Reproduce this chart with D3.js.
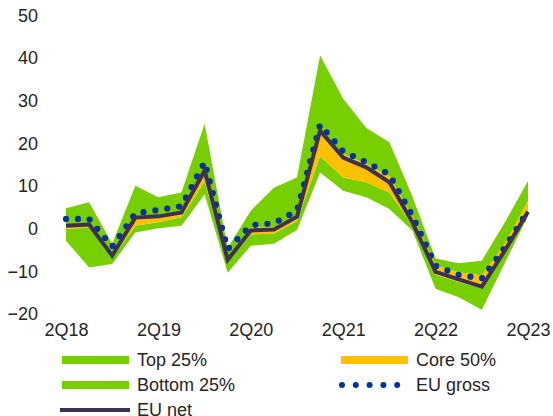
<!DOCTYPE html>
<html>
<head>
<meta charset="utf-8">
<script src="https://cdn.jsdelivr.net/npm/d3@7"></script>
<style>
  html, body { margin: 0; padding: 0; background: #fff; }
  svg { display: block; font-family: "Liberation Sans", Arial, sans-serif; }
</style>
</head>
<body>
<svg id="chart" width="553" height="416"></svg>
<script>
const quarters = ["2Q18","3Q18","4Q18","1Q19","2Q19","3Q19","4Q19","1Q20","2Q20","3Q20","4Q20",
                  "1Q21","2Q21","3Q21","4Q21","1Q22","2Q22","3Q22","4Q22","1Q23","2Q23"];
const tickLabels = ["2Q18","2Q19","2Q20","2Q21","2Q22","2Q23"];
const yTicks = [-20, -10, 0, 10, 20, 30, 40, 50];

// distribution boundaries
const minVal = [-2.8, -9.1, -8.3, -0.9, 0.1, 0.7, 8.0, -10.3, -4.0, -3.5, -0.3, 13.2, 8.9, 7.4, 4.6, -0.5, -14.1, -16.1, -19.0, -8.0, 3.0];
const p25    = [0.0, 0.2, -6.8, 0.7, 1.5, 2.7, 11.0, -7.8, -1.3, -1.2, 1.8, 17.0, 12.0, 10.9, 8.5, 0.8, -10.8, -12.5, -14.0, -5.8, 3.5];
const p75    = [1.0, 1.3, -5.8, 2.9, 3.3, 4.3, 13.8, -6.8, 0.2, 0.4, 3.3, 23.0, 17.5, 15.2, 12.3, 2.8, -8.6, -10.2, -11.0, -3.6, 6.5];
const maxVal = [4.8, 6.2, -3.5, 10.1, 7.4, 8.5, 24.6, -4.5, 4.2, 9.6, 12.0, 40.6, 30.5, 23.6, 20.3, 7.5, -7.0, -8.1, -7.5, 1.5, 11.2];
const euGross = [2.3, 2.3, -4.2, 3.6, 4.4, 5.3, 15.6, -4.8, 0.8, 1.3, 4.2, 24.4, 18.1, 15.6, 12.7, 3.0, -8.7, -10.8, -11.7, -4.4, 4.2];
const euNet   = [0.7, 1.0, -6.3, 2.6, 2.9, 3.8, 13.6, -7.3, -0.4, -0.2, 2.8, 23.0, 16.7, 14.4, 10.9, 1.5, -10.1, -11.9, -13.6, -5.1, 4.0];

const GREEN = "#78CF00", YELLOW = "#FFC000", BLUE = "#0033A0", NET = "#3C3055", TXT = "#262626";

const svg = d3.select("#chart");
const x = d3.scalePoint().domain(quarters).range([66, 528]);
const y = d3.scaleLinear().domain([-20, 50]).range([314, 15.5]);

const rows = quarters.map((q, i) => ({q, mn: minVal[i], a: p25[i], b: p75[i], mx: maxVal[i], g: euGross[i], n: euNet[i]}));

const band = (lo, hi) => d3.area().x(d => x(d.q)).y0(d => y(lo(d))).y1(d => y(hi(d)));

svg.append("path").datum(rows).attr("fill", GREEN).attr("d", band(d => d.mn, d => d.a));
svg.append("path").datum(rows).attr("fill", GREEN).attr("d", band(d => d.b, d => d.mx));
svg.append("path").datum(rows).attr("fill", YELLOW).attr("d", band(d => d.a, d => d.b));

svg.append("path").datum(rows)
  .attr("fill", "none").attr("stroke", BLUE).attr("stroke-width", 6.2)
  .attr("stroke-linecap", "round").attr("stroke-dasharray", "0 12")
  .attr("d", d3.line().x(d => x(d.q)).y(d => y(d.g)));

svg.append("path").datum(rows)
  .attr("fill", "none").attr("stroke", NET).attr("stroke-width", 4)
  .attr("stroke-linejoin", "miter")
  .attr("d", d3.line().x(d => x(d.q)).y(d => y(d.n)));

// Y axis
const yAxis = d3.axisLeft(y).tickValues(yTicks).tickSize(0).tickPadding(0);
const gy = svg.append("g").attr("transform", "translate(38,0)").call(yAxis);
gy.select(".domain").remove();
gy.selectAll("text").attr("font-size", 18).attr("fill", TXT).attr("font-family", "Liberation Sans, Arial, sans-serif");

// X axis
const xAxis = d3.axisBottom(x).tickValues(tickLabels).tickSize(0).tickPadding(0);
const gx = svg.append("g").attr("transform", "translate(0,323)").call(xAxis);
gx.select(".domain").remove();
gx.selectAll("text").attr("font-size", 18).attr("fill", TXT).attr("font-family", "Liberation Sans, Arial, sans-serif");

// Legend
const legendItems = [
  {label: "Top 25%", type: "rect", color: GREEN, x: 62, y: 360},
  {label: "Core 50%", type: "rect", color: YELLOW, x: 341, y: 360},
  {label: "Bottom 25%", type: "rect", color: GREEN, x: 62, y: 385},
  {label: "EU gross", type: "dots", color: BLUE, x: 341, y: 385},
  {label: "EU net", type: "line", color: NET, x: 62, y: 410}
];
const lg = svg.append("g");
legendItems.forEach(it => {
  if (it.type === "rect") {
    lg.append("rect").attr("x", it.x).attr("y", it.y - 4).attr("width", 67).attr("height", 8).attr("fill", it.color);
  } else if (it.type === "dots") {
    lg.append("line").attr("x1", it.x + 1).attr("x2", it.x + 70).attr("y1", it.y).attr("y2", it.y)
      .attr("stroke", it.color).attr("stroke-width", 6).attr("stroke-linecap", "round").attr("stroke-dasharray", "0 13.8");
  } else {
    lg.append("line").attr("x1", it.x - 2).attr("x2", it.x + 68).attr("y1", it.y).attr("y2", it.y)
      .attr("stroke", it.color).attr("stroke-width", 4);
  }
  lg.append("text").attr("x", it.x + 75).attr("y", it.y).attr("dy", "0.35em")
    .attr("font-size", 18).attr("fill", TXT).text(it.label);
});
</script>
</body>
</html>
